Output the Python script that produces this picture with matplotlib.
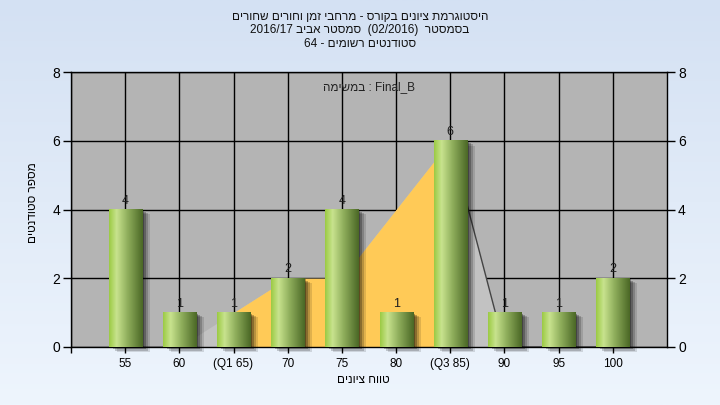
"""Grade histogram (Hebrew, RTL text) with Q1-Q3 band."""

import re

import matplotlib

matplotlib.use("Agg")

import matplotlib.pyplot as plt
import numpy as np
from matplotlib.colors import LinearSegmentedColormap
from matplotlib.patches import Rectangle

plt.rcParams["font.family"] = ["Liberation Sans", "DejaVu Sans"]

categories = ["55", "60", "(Q1 65)", "70", "75", "80", "(Q3 85)", "90", "95", "100"]
counts = [4, 1, 1, 2, 4, 1, 6, 1, 1, 2]
curve = [0, 0, 1, 2, 2, 4, 6, 0, 0, 0]
q1_idx, q3_idx = 2, 6

title_lines = [
    "היסטוגרמת ציונים בקורס - מרחבי זמן וחורים שחורים",
    "בסמסטר  (02/2016)  סמסטר אביב 2016/17",
    "סטודנטים רשומים - 64",
]
task_label = "Final_B : במשימה"
x_label = "טווח ציונים"
y_label = "מספר סטודנטים"


def rtl(s):
    """Visual order for an RTL paragraph (matplotlib draws glyphs left to right)."""
    tokens = re.findall(r"[0-9A-Za-z_][0-9A-Za-z_/.]*|.", s)
    mirror = {"(": ")", ")": "("}
    return "".join(mirror.get(t, t) for t in reversed(tokens))


fig = plt.figure(figsize=(7.2, 4.05), dpi=100)

bg = fig.add_axes([0, 0, 1, 1], zorder=-10)
bg.imshow(
    np.linspace(0, 1, 256).reshape(-1, 1),
    cmap=LinearSegmentedColormap.from_list("bg", ["#d4e1f3", "#eef5fd"]),
    aspect="auto",
    extent=[0, 1, 0, 1],
)
bg.set_axis_off()

ax = fig.add_axes([71 / 720, 58 / 405, 596 / 720, 275 / 405])
ax.set_facecolor("#b4b4b4")

x = np.arange(len(categories))

# background curve: light gray everywhere, yellow between Q1 and Q3
ax.fill_between(x, curve, color="#c2c2c2", lw=0, zorder=2)
ax.fill_between(x[q1_idx:q3_idx + 1], curve[q1_idx:q3_idx + 1], color="#ffca57", lw=0, zorder=2.1)
ax.plot(x[:2], curve[:2], color="#444444", lw=1.0, zorder=2.2)
ax.plot(x[q3_idx:], curve[q3_idx:], color="#444444", lw=1.0, zorder=2.2)

bar_cmap = LinearSegmentedColormap.from_list(
    "bar", [(0.0, "#9ccb45"), (0.22, "#c8e38e"), (0.55, "#8fae5c"), (1.0, "#4b6826")]
)
w = 0.61
px_x = 1 / 54.2
px_y = 1 / 34.4
for i, v in enumerate(counts):
    for k, a in zip((8, 6, 4, 2), (0.12, 0.18, 0.25, 0.3)):
        ax.add_patch(
            Rectangle(
                (i - w / 2 + k * px_x, -k * px_y * 0.6),
                w,
                v,
                facecolor="black",
                alpha=a,
                lw=0,
                zorder=3,
                clip_on=False,
            )
        )
    ax.imshow(
        np.linspace(0, 1, 64).reshape(1, -1),
        cmap=bar_cmap,
        extent=[i - w / 2, i + w / 2, 0, v],
        aspect="auto",
        zorder=4,
    )
    ax.annotate(
        str(v), (i, v), xytext=(0, 2), textcoords="offset points",
        ha="center", va="bottom", fontsize=9, color="#1e1e1e", zorder=5,
    )

ax.set_xlim(-1, len(categories))
ax.set_ylim(0, 8)
ax.set_aspect("auto")

ax.set_xticks(np.arange(-1, len(categories)))
ax.set_xticklabels([""] + categories, fontsize=8.5)
ax.set_yticks([0, 2, 4, 6, 8])
ax.tick_params(axis="y", right=True, labelright=True, labelsize=10, length=6, width=1, pad=2)
ax.tick_params(axis="x", length=4, width=1, pad=4)
ax.grid(True, color="black", lw=1.0, zorder=1)
ax.set_axisbelow(True)
for s in ax.spines.values():
    s.set_color("black")
    s.set_linewidth(1.0)

ax.text(0.5, 0.945, rtl(task_label), transform=ax.transAxes, ha="center", va="center",
        fontsize=8.5, color="#222222", zorder=6)

for k, line in enumerate(title_lines):
    fig.text(0.5, 1 - (17 + 13.5 * k) / 405, rtl(line), ha="center", va="center",
             fontsize=8.5, color="#111111")
fig.text(0.505, 1 - 380 / 405, rtl(x_label), ha="center", va="center", fontsize=8.5)
fig.text(33 / 720, 1 - 203 / 405, rtl(y_label), rotation=90, ha="center", va="center",
         fontsize=8.5)

fig.savefig("out.png", dpi=100)
plt.close(fig)
